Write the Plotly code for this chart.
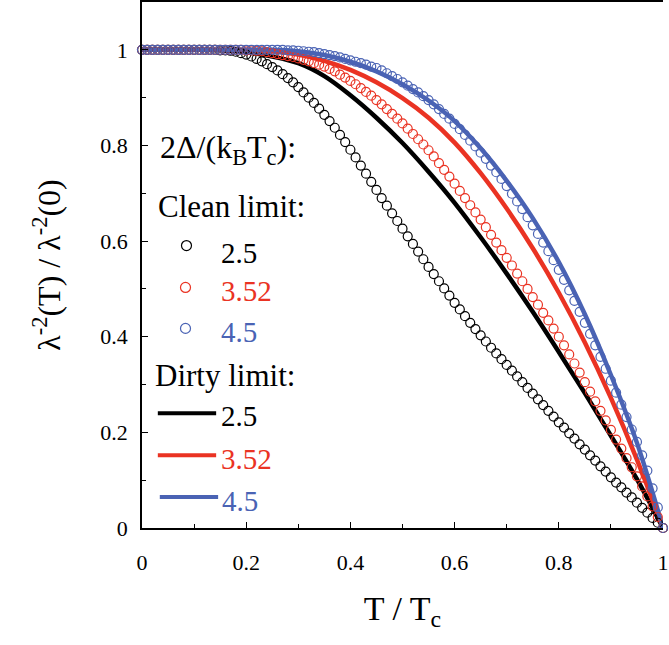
import plotly.graph_objects as go

# ---------------- data ----------------
t_clean = [round(i * 0.01, 2) for i in range(101)]
t_dirty = [round(i * 0.05, 2) for i in range(21)]

clean_25 = [1.000, 1.000, 1.000, 1.000, 1.000, 1.000, 1.000, 1.000, 1.000, 1.000,
            1.000, 1.000, 1.000, 1.000, 1.000,
            0.999, 0.999, 0.998, 0.996, 0.993, 0.990, 0.986, 0.981, 0.976, 0.970,
            0.964, 0.957, 0.949, 0.941, 0.932, 0.922,
            0.911, 0.900, 0.889, 0.877, 0.864, 0.851, 0.837, 0.822, 0.807, 0.791,
            0.775, 0.758, 0.741, 0.724, 0.707, 0.690, 0.674, 0.658, 0.642, 0.626,
            0.610, 0.594, 0.578, 0.562, 0.546, 0.531, 0.516, 0.501, 0.486, 0.471,
            0.457, 0.443, 0.429, 0.416, 0.403, 0.390, 0.377, 0.365, 0.353, 0.341,
            0.329, 0.317, 0.305, 0.293, 0.281, 0.269, 0.257, 0.245, 0.233, 0.221,
            0.210, 0.198, 0.187, 0.175, 0.164, 0.152, 0.141, 0.129, 0.118, 0.106,
            0.095, 0.085, 0.074, 0.064, 0.053, 0.042, 0.032, 0.021, 0.011, 0.000]

clean_352 = [1.000, 1.000, 1.000, 1.000, 1.000, 1.000, 1.000, 1.000, 1.000, 1.000,
             1.000, 1.000, 1.000, 1.000, 1.000, 1.000, 1.000, 1.000, 1.000, 1.000,
             0.999, 0.999, 0.998, 0.997, 0.995, 0.993, 0.991, 0.989, 0.987, 0.985, 0.982,
             0.979, 0.976, 0.972, 0.969, 0.965, 0.960, 0.955, 0.948, 0.942, 0.935,
             0.928, 0.920, 0.912, 0.904, 0.895, 0.886, 0.876, 0.866, 0.856, 0.846,
             0.835, 0.824, 0.813, 0.802, 0.790, 0.777, 0.763, 0.749, 0.735, 0.720,
             0.705, 0.690, 0.675, 0.660, 0.645, 0.629, 0.613, 0.597, 0.581, 0.565,
             0.549, 0.532, 0.516, 0.500, 0.483, 0.467, 0.450, 0.434, 0.417, 0.400,
             0.382, 0.363, 0.344, 0.325, 0.305, 0.285, 0.265, 0.245, 0.225, 0.205,
             0.185, 0.166, 0.146, 0.127, 0.108, 0.087, 0.066, 0.045, 0.023, 0.000]

clean_45 = [1.000, 1.000, 1.000, 1.000, 1.000, 1.000, 1.000, 1.000, 1.000, 1.000,
            1.000, 1.000, 1.000, 1.000, 1.000, 1.000, 1.000, 1.000, 1.000, 1.000,
            1.000, 1.000, 1.000, 1.000, 1.000, 1.000, 1.000, 1.000,
            0.999, 0.999, 0.998,
            0.997, 0.996, 0.995, 0.993, 0.991, 0.989, 0.987, 0.984, 0.981, 0.978,
            0.975, 0.972, 0.969, 0.965, 0.962, 0.957, 0.951, 0.945, 0.939, 0.932,
            0.925, 0.918, 0.911, 0.903, 0.895, 0.886, 0.876, 0.866, 0.856, 0.845,
            0.834, 0.822, 0.810, 0.798, 0.785, 0.772, 0.758, 0.744, 0.730, 0.715,
            0.699, 0.683, 0.667, 0.650, 0.633, 0.615, 0.597, 0.579, 0.560, 0.540,
            0.519, 0.497, 0.475, 0.452, 0.429, 0.406, 0.382, 0.358, 0.333, 0.308,
            0.283, 0.258, 0.232, 0.206, 0.180, 0.152, 0.120, 0.083, 0.043, 0.000]

dirty_25 = [1.000, 1.000, 1.000, 0.999, 0.995, 0.986, 0.972, 0.945, 0.905, 0.858,
            0.805, 0.745, 0.680, 0.608, 0.532, 0.452, 0.368, 0.282, 0.193, 0.102, 0.000]
dirty_352 = [1.000, 1.000, 1.000, 1.000, 1.000, 0.997, 0.990, 0.977, 0.958, 0.932,
             0.899, 0.858, 0.806, 0.742, 0.668, 0.585, 0.492, 0.388, 0.272, 0.143, 0.000]
dirty_45 = [1.000, 1.000, 1.000, 1.000, 1.000, 1.000, 0.997, 0.989, 0.975, 0.955,
            0.928, 0.894, 0.851, 0.794, 0.726, 0.648, 0.556, 0.447, 0.320, 0.178, 0.000]

labels = ["2.5", "3.52", "4.5"]

# ---------------- style ----------------
BLACK = "#000000"
RED = "#EA3323"
BLUE = "#4A63B4"
colors = [BLACK, RED, BLUE]
FONT = "Liberation Serif, Times New Roman, serif"

W, H = 669, 645
ML, MR, MT, MB = 142, 0, 1, 117
PW = W - ML - MR
PH = H - MT - MB


def xp(px):
    return (px - ML) / PW


def yp(py):
    return (H - MB - py) / PH


fig = go.Figure()

for ys, c, lab in zip([dirty_25, dirty_352, dirty_45], colors, labels):
    fig.add_trace(go.Scatter(
        x=t_dirty, y=ys, mode="lines", name="Dirty " + lab,
        line=dict(color=c, width=4.5, shape="spline", smoothing=1.0),
        showlegend=False))

for ys, c, lab in zip([clean_25, clean_352, clean_45], colors, labels):
    fig.add_trace(go.Scatter(
        x=t_clean, y=ys, mode="markers", name="Clean " + lab,
        marker=dict(symbol="circle-open", size=9, color=c, line=dict(width=1.2, color=c)),
        cliponaxis=False, showlegend=False))

axis_common = dict(
    ticks="inside", ticklen=6, tickwidth=1.3, tickcolor="black",
    showline=True, linewidth=1.5, linecolor="black",
    showgrid=False, zeroline=False,
    tickfont=dict(family=FONT, size=22, color="black"),
    ticklabeloverflow="allow",
)

fig.update_xaxes(
    range=[0, 1], tick0=0, dtick=0.2,
    minor=dict(dtick=0.1, ticks="inside", ticklen=4, tickwidth=1.3, tickcolor="black"),
    mirror=True, ticklabelstandoff=14,
    title=dict(text="T / T<sub>c</sub>", font=dict(family=FONT, size=34, color="black"), standoff=22),
    **axis_common)
fig.update_yaxes(
    range=[0, 1.1], tick0=0, dtick=0.2,
    minor=dict(dtick=0.1, ticks="inside", ticklen=4, tickwidth=1.3, tickcolor="black"),
    mirror=False, ticklabelstandoff=8,
    title=dict(text="λ<sup>-2</sup>(T) / λ<sup>-2</sup>(0)", font=dict(family=FONT, size=32, color="black"), standoff=30),
    **axis_common)

# ---------------- manual legend ----------------
annotations = []
shapes = []


def add_text(text, px, py, size, color="black"):
    annotations.append(dict(
        text=text, x=xp(px), y=yp(py), xref="paper", yref="paper",
        xanchor="left", yanchor="middle", showarrow=False,
        font=dict(family=FONT, size=size, color=color)))


add_text("2Δ/(k<sub>B</sub>T<sub>c</sub>):", 158, 149, 32)
add_text("Clean limit:", 156, 206, 31)
add_text("Dirty limit:", 153, 375, 31)

clean_rows = [(187, 245, 252), (186, 287, 291), (186, 328, 332)]
for (cx, cy, ty), c, lab in zip(clean_rows, colors, labels):
    shapes.append(dict(
        type="circle", xref="paper", yref="paper", xsizemode="pixel", ysizemode="pixel",
        xanchor=xp(cx), yanchor=yp(cy), x0=-5, x1=5, y0=-5, y1=5,
        line=dict(color=c, width=1.2)))
    add_text(lab, 220, ty, 29, c)

dirty_rows = [(158, 217, 413, 416), (158, 217, 455, 459), (160, 219, 497, 501)]
for (x0, x1, ly, ty), c, lab in zip(dirty_rows, colors, labels):
    shapes.append(dict(
        type="line", xref="paper", yref="paper",
        x0=xp(x0), x1=xp(x1), y0=yp(ly), y1=yp(ly),
        line=dict(color=c, width=4)))
    add_text(lab, 220 if lab != "4.5" else 221, ty, 29, c)

fig.update_layout(
    width=W, height=H,
    margin=dict(l=ML, r=MR, t=MT, b=MB),
    paper_bgcolor="white", plot_bgcolor="white",
    showlegend=False,
    font=dict(family=FONT, color="black"),
    annotations=annotations, shapes=shapes,
)

fig.write_html("out.html")
